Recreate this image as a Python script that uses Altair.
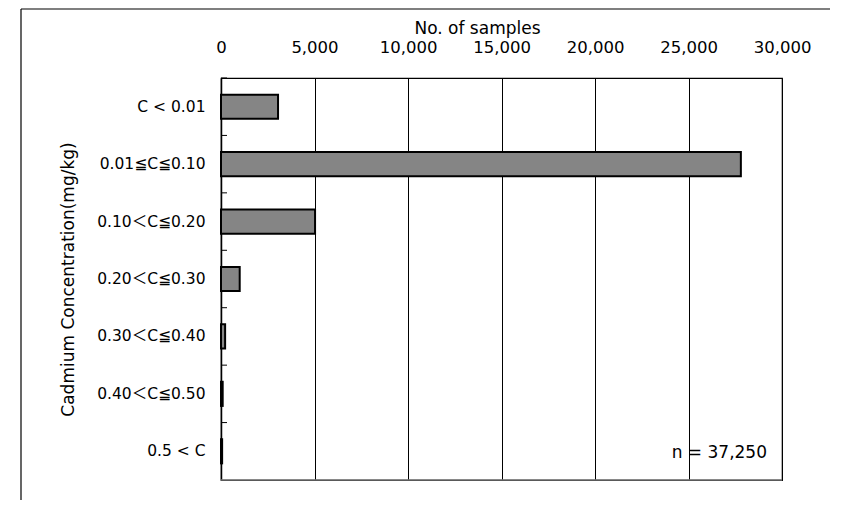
import altair as alt
import pandas as pd

categories = ["C < 0.01", "0.01≦C≦0.10", "0.10＜C≦0.20", "0.20＜C≦0.30",
              "0.30＜C≦0.40", "0.40＜C≦0.50", "0.5 < C"]
counts = [3050, 27800, 5030, 1000, 220, 90, 60]
x_ticks = [0, 5000, 10000, 15000, 20000, 25000, 30000]
total_label = "n = 37,250"

FONT = "DejaVu Sans, Noto Sans CJK JP"
W, H = 561, 402
STEP = H / 7.0
BAND = STEP * 0.42

df = pd.DataFrame({"range": categories, "count": counts})

y_enc = alt.Y(
    "range:N", sort=categories,
    scale=alt.Scale(paddingInner=0.58, paddingOuter=0.29),
    axis=alt.Axis(
        title="Cadmium Concentration(mg/kg)", ticks=False, domain=True,
        domainColor="black", domainWidth=1.5, labelPadding=16, labelFont=FONT,
        labelFontSize=15.5, labelColor="black", titleFont=FONT, titleFontSize=17,
        titleFontWeight="normal", titleColor="black", titleAngle=270,
        titleX=-153, titleY=H / 2, titleAlign="center", titleBaseline="middle",
        grid=False,
    ),
)

x_enc = alt.X(
    "count:Q",
    scale=alt.Scale(domain=[0, 30000], nice=False),
    axis=alt.Axis(
        orient="top", values=x_ticks, format=",d", title="No. of samples",
        grid=True, gridColor="black", gridOpacity=1, gridWidth=1,
        ticks=False, tickSize=0, domain=False, labelPadding=23,
        labelFontSize=16.5, labelFont=FONT, labelColor="black", labelFlush=False,
        titleFont=FONT, titleX=256, titleY=-45, titleBaseline="alphabetic",
        titleAlign="center", titleFontSize=17, titleFontWeight="normal",
        titleColor="black",
    ),
)

bars = alt.Chart(df).mark_bar(fill="#858585", stroke="black", strokeWidth=2).encode(
    x=x_enc, y=y_enc
)

ticks = alt.Chart(df).mark_rule(color="black", strokeWidth=1).encode(
    y=alt.Y("range:N", sort=categories),
    yOffset=alt.value(-(STEP - BAND) / 2),
    x=alt.value(0),
    x2=alt.value(6),
)

note = alt.Chart(pd.DataFrame({"label": [total_label]})).mark_text(
    font=FONT, fontSize=17, align="right", baseline="middle", color="black"
).encode(x=alt.value(546), y=alt.value(375), text="label:N")

frame_df = pd.DataFrame({"k": [0]})
frame_top = alt.Chart(frame_df).mark_rule(color="black", strokeWidth=1.2).encode(
    x=alt.value(-200), x2=alt.value(640), y=alt.value(-69)
)
frame_left = alt.Chart(frame_df).mark_rule(color="black", strokeWidth=1.2).encode(
    x=alt.value(-200), y=alt.value(-69), y2=alt.value(460)
)
bottom_edge = alt.Chart(frame_df).mark_rule(color="#777777", strokeWidth=1.5).encode(
    x=alt.value(0), x2=alt.value(W), y=alt.value(H)
)

chart = alt.layer(bars, ticks, note, bottom_edge, frame_top, frame_left).properties(
    width=W, height=H,
    autosize=alt.AutoSizeParams(type="none"),
    padding={"left": 213, "top": 70, "right": 48, "bottom": 20},
    background="white",
).configure_view(stroke="black", strokeWidth=1.2)

chart.save("out.html", embed_options={"renderer": "svg", "actions": False})
